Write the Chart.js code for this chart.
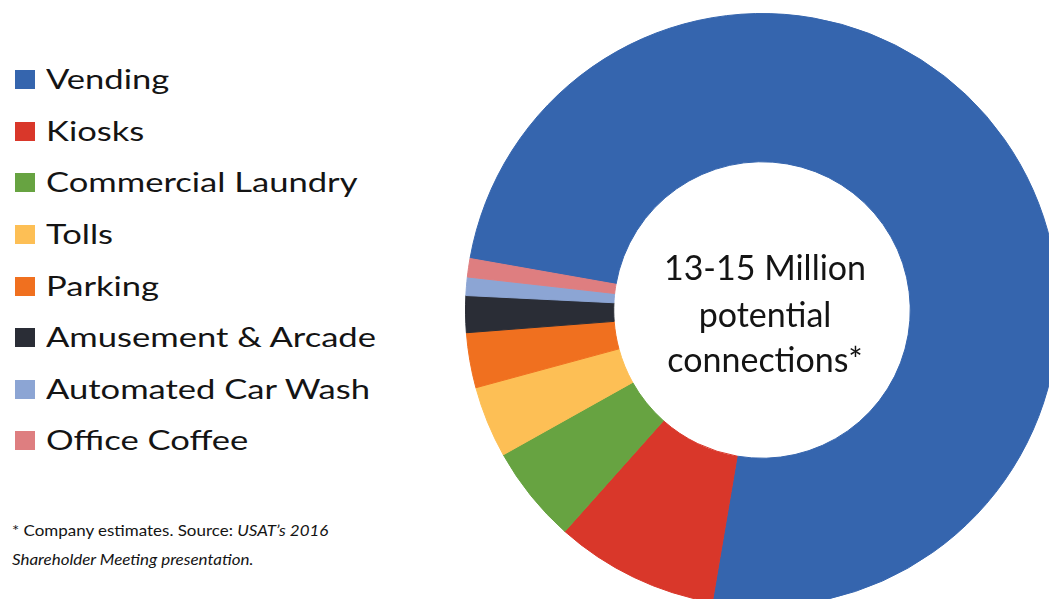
<!DOCTYPE html>
<html>
<head>
<meta charset="utf-8">
<script src="https://cdn.jsdelivr.net/npm/chart.js@4.4.0/dist/chart.umd.min.js"></script>
<style>
    html, body { margin: 0; padding: 0; background: #fff; }
    body { width: 1049px; height: 599px; overflow: hidden; position: relative; font-family: Lato, "Open Sans", sans-serif; color: #141414; }
    #chart-box { position: absolute; left: 465px; top: 13px; width: 594px; height: 594px; }
    #legend { position: absolute; left: 15px; top: 53px; margin: 0; padding: 0; list-style: none; }
    #legend li { height: 51.6px; display: flex; align-items: center; font-size: 27px; white-space: nowrap; }
    #legend .box { width: 20px; height: 19px; margin-right: 11px; flex: none; position: relative; top: 1px; }
    #legend .txt { display: inline-block; transform: scaleX(1.28); transform-origin: left center; }
    #note { position: absolute; left: 12px; top: 516px; font-size: 15px; line-height: 29px;
            transform: scaleX(1.13); transform-origin: left top; white-space: nowrap; }
</style>
</head>
<body>
<ul id="legend"></ul>
<div id="chart-box"><canvas id="donut" width="594" height="594"></canvas></div>
<div id="note">* Company estimates. Source: <i>USAT’s 2016</i><br><i>Shareholder Meeting presentation.</i></div>

<script>
// --- Datos (en %) ---
const categories = ["Vending", "Kiosks", "Commercial Laundry", "Tolls", "Parking",
                    "Amusement & Arcade", "Automated Car Wash", "Office Coffee"];
const shares = [74.9, 8.9, 5.3, 3.9, 3.0, 2.0, 1.0, 1.0];
const colors = ["#3565ae", "#d9372a", "#67a341", "#fdbf55", "#f0701f",
                "#2a2d36", "#8ca5d4", "#de7e80"];
const centerLines = ["13-15 Million", "potential", "connections*"];

// --- Leyenda HTML ---
const legendEl = document.getElementById("legend");
categories.forEach((name, i) => {
    const li = document.createElement("li");
    const box = document.createElement("span");
    box.className = "box";
    box.style.background = colors[i];
    const txt = document.createElement("span");
    txt.className = "txt";
    txt.textContent = name;
    li.append(box, txt);
    legendEl.appendChild(li);
});

// --- Texto central ---
const centerText = {
    id: "centerText",
    afterDraw(chart) {
        const arc = chart.getDatasetMeta(0).data[0];
        if (!arc) return;
        const { ctx } = chart;
        ctx.save();
        ctx.font = "34px Lato, 'Open Sans', sans-serif";
        ctx.fillStyle = "#141414";
        ctx.textAlign = "center";
        ctx.textBaseline = "alphabetic";
        const baselines = [-30, 17, 62];
        centerLines.forEach((line, i) => ctx.fillText(line, arc.x + 3, arc.y + baselines[i]));
        ctx.restore();
    }
};

new Chart(document.getElementById("donut").getContext("2d"), {
    type: "doughnut",
    data: {
        labels: categories,
        datasets: [{
            data: shares,
            backgroundColor: colors,
            borderColor: colors,
            borderWidth: 1
        }]
    },
    options: {
        responsive: false,
        maintainAspectRatio: false,
        animation: false,
        cutout: "50%",
        rotation: 280,
        layout: { padding: 0 },
        plugins: { legend: { display: false }, tooltip: { enabled: false } }
    },
    plugins: [centerText]
});
</script>
</body>
</html>
